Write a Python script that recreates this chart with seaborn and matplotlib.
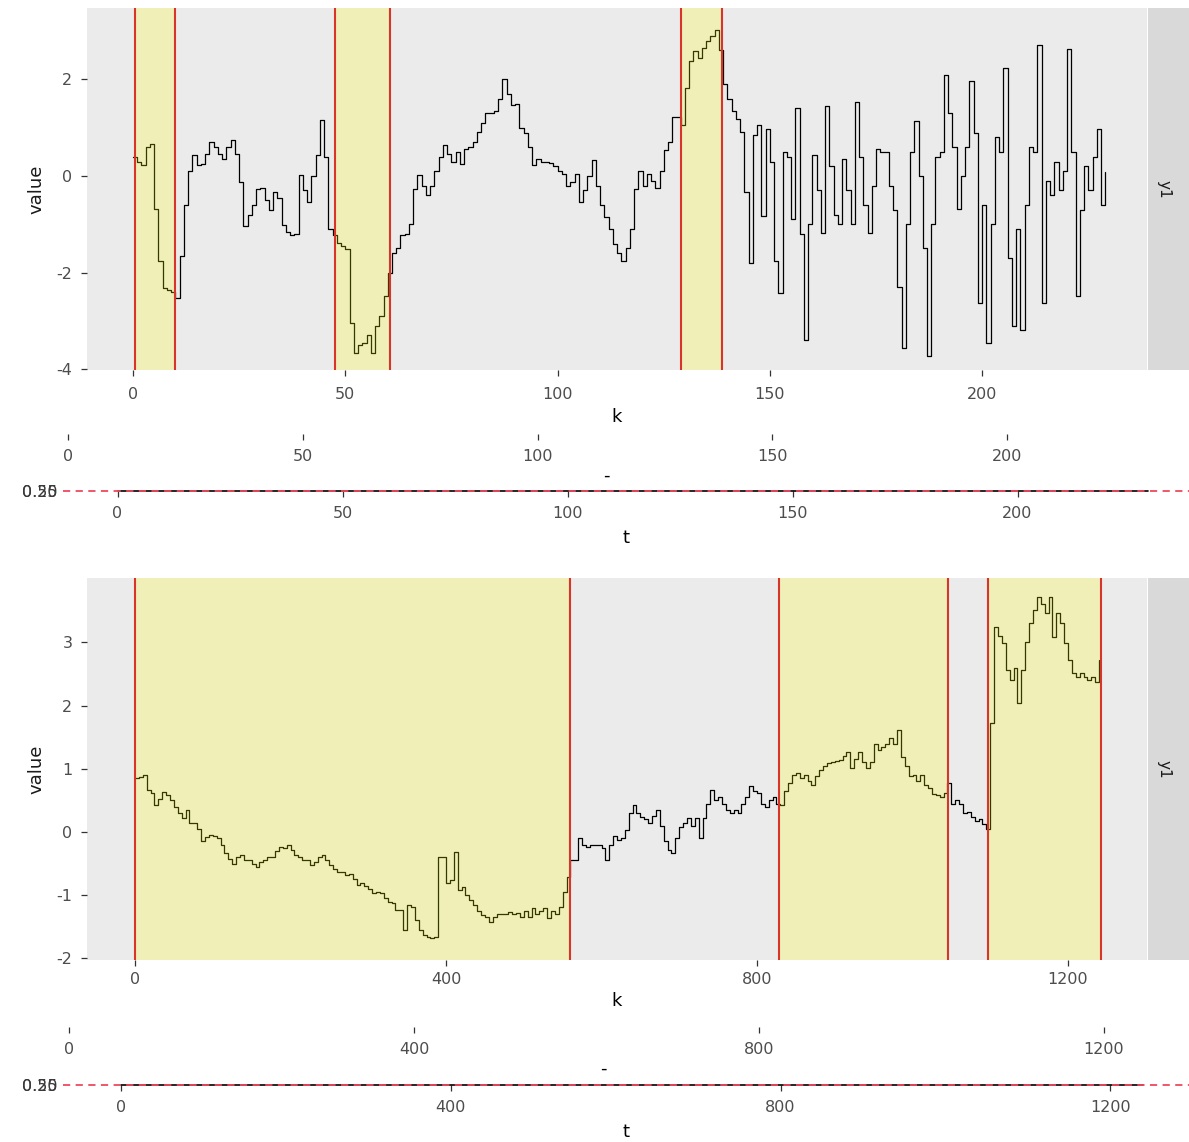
import matplotlib
matplotlib.use("Agg")
import matplotlib.pyplot as plt
import seaborn as sns

# ---- data ----
# top series: one value per k step, k = 0..229
top_values = [
    0.40, 0.30, 0.23, 0.60, 0.67, -0.69, -1.75, -2.31, -2.35, -2.40,
    -2.52, -1.65, -0.60, 0.10, 0.43, 0.23, 0.25, 0.45, 0.71, 0.60,
    0.45, 0.36, 0.60, 0.75, 0.45, -0.12, -1.03, -0.80, -0.61, -0.27,
    -0.25, -0.50, -0.71, -0.33, -0.45, -1.02, -1.15, -1.23, -1.20, 0.02,
    -0.30, -0.54, 0.00, 0.43, 1.16, 0.40, -1.10, -1.23, -1.38, -1.45,
    -1.52, -3.04, -3.67, -3.50, -3.46, -3.30, -3.67, -3.10, -2.90, -2.48,
    -2.00, -1.60, -1.50, -1.23, -1.20, -1.00, -0.27, 0.02, -0.20, -0.40,
    -0.20, 0.10, 0.40, 0.64, 0.45, 0.29, 0.50, 0.25, 0.55, 0.60,
    0.71, 0.92, 1.10, 1.30, 1.30, 1.35, 1.60, 2.00, 1.70, 1.47,
    1.50, 0.99, 0.90, 0.60, 0.22, 0.35, 0.30, 0.28, 0.26, 0.20,
    0.10, 0.05, -0.20, -0.12, 0.05, -0.54, -0.30, 0.00, 0.33, -0.20,
    -0.61, -0.85, -1.10, -1.40, -1.60, -1.75, -1.50, -1.10, -0.27, 0.10,
    -0.20, 0.05, -0.10, -0.25, 0.10, 0.54, 0.70, 1.23, 1.23, 1.06,
    1.82, 2.38, 2.58, 2.45, 2.65, 2.79, 2.90, 3.03, 2.60, 1.90,
    1.60, 1.35, 1.19, 0.92, -0.33, -1.80, 0.85, 1.06, -0.82, 0.98,
    0.30, -1.75, -2.42, 0.50, 0.40, -0.90, 1.40, -1.20, -3.40, -1.00,
    0.43, -0.30, -1.17, 1.44, 0.20, -0.80, -1.00, 0.36, -0.30, -1.00,
    1.54, 0.40, -0.60, -1.17, -0.20, 0.56, 0.50, 0.50, -0.20, -0.70,
    -2.30, -3.56, -1.00, 0.50, 1.13, 0.00, -1.50, -3.73, -1.00, 0.40,
    0.50, 2.10, 1.30, 0.60, -0.69, 0.00, 0.60, 1.96, 0.90, -2.62,
    -0.60, -3.46, -1.00, 0.80, 0.50, 2.23, -1.70, -3.10, -1.10, -3.18,
    -0.60, 0.60, 0.50, 2.72, -2.62, -0.10, -0.40, 0.30, -0.30, 0.10,
    2.62, 0.50, -2.48, -0.70, 0.20, -0.30, 0.40, 0.98, -0.60, 0.08,
]
top_k = list(range(len(top_values)))
top_starts = [0.5, 47.5, 129.0]
top_ends = [10.0, 60.5, 138.7]

# bottom series: one value every 5 steps, t = 0..1240
bottom_step = 5
bottom_values = [
    0.85, 0.87, 0.90, 0.66, 0.62, 0.43, 0.52, 0.64, 0.58, 0.50,
    0.40, 0.30, 0.22, 0.35, 0.15, 0.14, 0.05, -0.15, -0.08, -0.05,
    -0.07, -0.10, -0.20, -0.34, -0.42, -0.50, -0.40, -0.36, -0.44, -0.44,
    -0.50, -0.55, -0.48, -0.45, -0.40, -0.39, -0.30, -0.23, -0.25, -0.21,
    -0.28, -0.36, -0.40, -0.44, -0.45, -0.52, -0.48, -0.40, -0.36, -0.45,
    -0.52, -0.58, -0.63, -0.63, -0.68, -0.66, -0.75, -0.84, -0.80, -0.85,
    -0.90, -0.97, -0.95, -0.97, -1.05, -1.10, -1.13, -1.23, -1.23, -1.55,
    -1.16, -1.18, -1.39, -1.55, -1.63, -1.66, -1.68, -1.66, -0.39, -0.40,
    -0.81, -0.76, -0.31, -0.92, -0.87, -1.00, -1.08, -1.15, -1.25, -1.31,
    -1.35, -1.42, -1.35, -1.29, -1.30, -1.29, -1.26, -1.30, -1.28, -1.34,
    -1.25, -1.34, -1.20, -1.29, -1.25, -1.20, -1.36, -1.25, -1.30, -1.18,
    -0.95, -0.71, -0.44, -0.44, -0.10, -0.20, -0.23, -0.21, -0.20, -0.21,
    -0.25, -0.44, -0.20, -0.07, -0.13, -0.10, 0.03, 0.30, 0.43, 0.30,
    0.24, 0.20, 0.14, 0.25, 0.35, 0.10, -0.15, -0.28, -0.34, -0.10,
    0.08, 0.15, 0.22, 0.10, 0.22, -0.10, 0.22, 0.45, 0.66, 0.51,
    0.56, 0.45, 0.35, 0.30, 0.35, 0.30, 0.45, 0.56, 0.72, 0.65,
    0.61, 0.45, 0.40, 0.50, 0.56, 0.45, 0.43, 0.65, 0.77, 0.90,
    0.93, 0.85, 0.90, 0.80, 0.75, 0.88, 0.98, 1.05, 1.09, 1.10,
    1.12, 1.14, 1.20, 1.27, 1.01, 1.15, 1.27, 1.10, 1.01, 1.10,
    1.40, 1.30, 1.35, 1.40, 1.48, 1.40, 1.61, 1.19, 1.05, 0.88,
    0.90, 0.80, 0.90, 0.75, 0.70, 0.60, 0.59, 0.55, 0.62, 0.77,
    0.45, 0.51, 0.45, 0.30, 0.32, 0.24, 0.18, 0.20, 0.12, 0.05,
    1.72, 3.25, 3.10, 2.99, 2.56, 2.41, 2.60, 2.04, 2.56, 3.00,
    3.30, 3.51, 3.72, 3.60, 3.46, 3.72, 3.09, 3.46, 3.30, 2.99,
    2.72, 2.51, 2.46, 2.51, 2.46, 2.41, 2.46, 2.37, 2.72,
]
bottom_t = [i * bottom_step for i in range(len(bottom_values))]
bottom_starts = [0.0, 828.0, 1097.0]
bottom_ends = [559.0, 1046.0, 1242.0]

top_xticks = [0, 50, 100, 150, 200]
top_yticks = [-4, -2, 0, 2]
bottom_xticks = [0, 400, 800, 1200]
bottom_yticks = [-2, -1, 0, 1, 2, 3]
strip_label = "y1"
thin_levels = [0.25, 0.50]
thin_ticklabels = ["0.25", "0.50"]

# ---- style ----
sns.set_theme(style="ticks", rc={"axes.facecolor": "#EBEBEB"})
plt.rcParams["font.family"] = ["DejaVu Sans"]
plt.rcParams["axes.unicode_minus"] = False

W, H = 1189, 1142
fig = plt.figure(figsize=(W / 100, H / 100), dpi=100)
fig.patch.set_facecolor("white")

TICK_COL = "#4D4D4D"
RED = "#D8342A"
YELLOW = "#FFFF00"
PINK = "#EE4A5E"
FS_TICK = 11.5
FS_TITLE = 13


def px_axes(x0, y0, x1, y1):
    return fig.add_axes([x0 / W, 1 - y1 / H, (x1 - x0) / W, (y1 - y0) / H])


def style_ticks(ax, pad_x=7, pad_y=6):
    for s in ax.spines.values():
        s.set_visible(False)
    ax.tick_params(axis="both", colors="#333333", labelcolor=TICK_COL,
                   labelsize=FS_TICK, length=4.5, width=0.9, direction="out",
                   bottom=True, left=True, top=False, right=False)
    ax.tick_params(axis="x", pad=pad_x)
    ax.tick_params(axis="y", pad=pad_y)


def main_panel(y0, y1, k, vals, starts, ends, xlim, ylim, xticks, yticks, pad_x):
    ax = px_axes(87, y0, 1147, y1)
    sns.lineplot(x=k, y=vals, ax=ax, color="black", linewidth=0.9,
                 drawstyle="steps-post", zorder=2)
    for s, e in zip(starts, ends):
        ax.axvspan(s, e, facecolor=YELLOW, alpha=0.22, lw=0, zorder=3)
        ax.axvline(s, color=RED, lw=1.5, zorder=4)
        ax.axvline(e, color=RED, lw=1.5, zorder=4)
    ax.set_xlim(*xlim)
    ax.set_ylim(*ylim)
    ax.set_xticks(xticks)
    ax.set_yticks(yticks)
    ax.grid(False)
    style_ticks(ax, pad_x=pad_x)
    ax.set_xlabel("k", fontsize=FS_TITLE, color="black", labelpad=4)
    ax.set_ylabel("value", fontsize=FS_TITLE, color="#1A1A1A", labelpad=8)

    strip = px_axes(1148, y0, 1189, y1)
    strip.set_facecolor("#D9D9D9")
    strip.set_xticks([])
    strip.set_yticks([])
    for s in strip.spines.values():
        s.set_visible(False)
    strip.text(0.4, 0.5, strip_label, rotation=-90, ha="center", va="center",
               fontsize=11, color="#1A1A1A", transform=strip.transAxes)
    return ax


def sec_axis(y, x_right, zero_px, ppu, xticks):
    ax = px_axes(40, y, x_right, y + 0.2)
    ax.set_facecolor("none")
    ax.set_xlim((40 - zero_px) / ppu, (x_right - zero_px) / ppu)
    ax.set_xticks(xticks)
    ax.set_yticks([])
    style_ticks(ax, pad_x=6)
    ax.set_xlabel("-", fontsize=FS_TITLE, color="black", labelpad=2)
    return ax


def thin_panel(y, zero_px, ppu, t_end, xticks):
    ax = px_axes(63, y, 1189, y + 0.2)
    ax.set_facecolor("none")
    ax.set_xlim((63 - zero_px) / ppu, (1189 - zero_px) / ppu)
    ax.set_ylim(thin_levels[0], thin_levels[1])
    mid = sum(thin_levels) / 2
    sns.lineplot(x=[0, t_end], y=[mid, mid], ax=ax, color="black",
                 linewidth=1.2, zorder=2, clip_on=False)
    ax.axhline(mid, color=PINK, lw=1.3, ls=(0, (4, 3)), zorder=3,
               clip_on=False)
    ax.set_xticks(xticks)
    ax.set_yticks(thin_levels)
    ax.set_yticklabels(thin_ticklabels)
    style_ticks(ax, pad_x=6, pad_y=4)
    ax.tick_params(axis="y", length=0, labelcolor="#3A3A3A")
    ax.set_xlabel("t", fontsize=FS_TITLE, color="black", labelpad=6)
    ax.set_ylabel("")
    return ax


# ---- top block ----
main_panel(8, 370, top_k, top_values, top_starts, top_ends,
           ((87 - 133) / 4.246, (1147 - 133) / 4.246),
           ((176 - 370) / 48.3, (176 - 8) / 48.3),
           top_xticks, top_yticks, pad_x=8)
sec_axis(434, 1172, 68, 4.695, top_xticks)
thin_panel(491, 117.5, 4.5, top_k[-1], top_xticks)

# ---- bottom block ----
main_panel(578, 960, bottom_t, bottom_values, bottom_starts, bottom_ends,
           ((87 - 135) / 0.7775, (1147 - 135) / 0.7775),
           ((832 - 960) / 63.2, (832 - 578) / 63.2),
           bottom_xticks, bottom_yticks, pad_x=4)
sec_axis(1027, 1166, 69, 0.8625, bottom_xticks)
thin_panel(1085, 121, 0.8244, bottom_t[-1], bottom_xticks)

fig.savefig("out.png", dpi=100)
